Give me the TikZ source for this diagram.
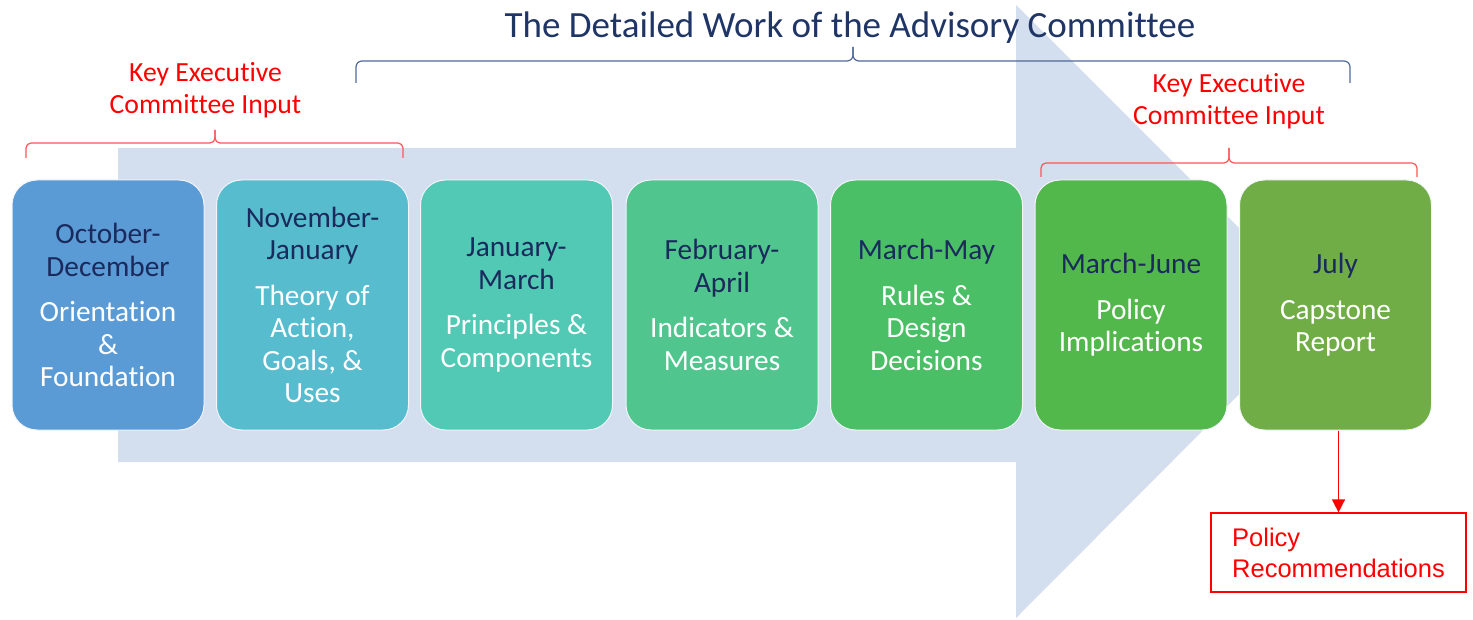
\documentclass[tikz,border=0pt]{standalone}
\usepackage{fontspec}
\setmainfont[Ligatures=NoCommon]{Carlito}
\newfontfamily\arialf{Liberation Sans}
\usetikzlibrary{arrows.meta}
\definecolor{arrowc}{HTML}{D3DEEF}
\definecolor{datec}{HTML}{1A2A5C}
\definecolor{titlec}{HTML}{1F3566}
\definecolor{bracec}{HTML}{50689A}
\definecolor{keyred}{HTML}{FF0000}
\definecolor{bracered}{HTML}{FF5555}
\definecolor{cA}{HTML}{5B9BD5}
\definecolor{cB}{HTML}{56BCCE}
\definecolor{cC}{HTML}{52C9B5}
\definecolor{cD}{HTML}{50C58E}
\definecolor{cE}{HTML}{4BBF65}
\definecolor{cF}{HTML}{52B84B}
\definecolor{cG}{HTML}{70AD47}
\newcommand\datetxt[1]{\textcolor{datec}{#1}}
\begin{document}
\begin{tikzpicture}[x=1pt,y=-1pt,
  stage/.style={rounded corners=25pt, minimum width=192pt, minimum height=250pt,
    align=center, text=white, draw=white!70!arrowc, line width=1pt, inner sep=0pt,
    font=\fontsize{29.3}{32.5}\selectfont},
  keylabel/.style={align=center, text=keyred, font=\fontsize{27.7}{32.5}\selectfont, inner sep=0pt},
  redbrace/.style={draw=bracered, line width=1.2pt, rounded corners=5pt},
  bluebrace/.style={draw=bracec, line width=1.2pt, rounded corners=6pt}]
\useasboundingbox (0,0) rectangle (1473,620);
% big arrow
\fill[arrowc] (118,148) -- (1016,148) -- (1016,5) -- (1322,311) -- (1016,618) -- (1016,462) -- (118,462) -- cycle;
% title and top brace
\node[font=\fontsize{37}{42}\selectfont, text=titlec, inner sep=0pt] (title) at (850,28) {The Detailed Work of the Advisory Committee};
\draw[bluebrace] (356,83) -- (356,61) -- (853,61) -- (853,47);
\draw[bluebrace] (1350,83) -- (1350,61) -- (853,61) -- (853,47);
% left key input
\node[keylabel] (keyL) at (205.5,90) {Key Executive\\Committee Input};
\draw[redbrace] (26,158) -- (26,143) -- (215,143) -- (215,130);
\draw[redbrace] (403,158) -- (403,143) -- (215,143) -- (215,130);
% right key input
\node[keylabel] (keyR) at (1229,101) {Key Executive\\Committee Input};
\draw[redbrace] (1041,177) -- (1041,163) -- (1229,163) -- (1229,148);
\draw[redbrace] (1417,177) -- (1417,163) -- (1229,163) -- (1229,148);
% stages
\node[stage, fill=cA] (b1) at (108,305) {\datetxt{October-}\\\datetxt{December}\\[13pt]Orientation\\\&\\Foundation};
\node[stage, fill=cB] (b2) at (312.5,305) {\datetxt{November-}\\\datetxt{January}\\[13pt]Theory of\\Action,\\Goals, \&\\Uses};
\node[stage, fill=cC] (b3) at (516.5,305) {\datetxt{January-}\\\datetxt{March}\\[13pt]Principles \&\\Components};
\node[stage, fill=cD] (b4) at (722,305) {\datetxt{February-}\\\datetxt{April}\\[13pt]Indicators \&\\Measures};
\node[stage, fill=cE] (b5) at (926.5,305) {\datetxt{March-May}\\[13pt]Rules \&\\Design\\Decisions};
\node[stage, fill=cF] (b6) at (1131,305) {\datetxt{March-June}\\[13pt]Policy\\Implications};
\node[stage, fill=cG] (b7) at (1335.5,305) {\datetxt{July}\\[13pt]Capstone\\Report};
% policy recommendations
\node[draw=keyred, line width=1.2pt, minimum width=255pt, minimum height=79pt, text=keyred,
  align=left, font=\arialf\fontsize{25.5}{31}\selectfont, inner sep=0pt] (pr) at (1338.5,552.5) {Policy\\Recommendations};
\draw[keyred, line width=1.5pt, -{Triangle[length=13pt,width=13pt]}] (pr.north |- b7.south) -- (pr.north);
\end{tikzpicture}
\end{document}
